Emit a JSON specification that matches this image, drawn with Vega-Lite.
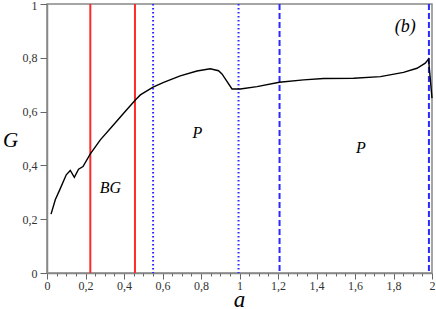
{
  "$schema": "https://vega.github.io/schema/vega-lite/v6.json",
  "width": 385,
  "height": 269,
  "autosize": {"type": "none"},
  "padding": {"left": 47, "top": 4, "right": 4, "bottom": 36},
  "config": {
    "view": {"stroke": "#888888", "strokeWidth": 1.5},
    "font": "Liberation Serif"
  },
  "resolve": {"axis": {"x": "independent"}},
  "datasets": {
    "curve": [
      {"a": 0.021, "G": 0.219}, {"a": 0.043, "G": 0.272}, {"a": 0.066, "G": 0.309},
      {"a": 0.1, "G": 0.365}, {"a": 0.121, "G": 0.381}, {"a": 0.142, "G": 0.356},
      {"a": 0.164, "G": 0.386}, {"a": 0.187, "G": 0.396}, {"a": 0.225, "G": 0.443},
      {"a": 0.277, "G": 0.495}, {"a": 0.346, "G": 0.551}, {"a": 0.398, "G": 0.594},
      {"a": 0.459, "G": 0.643}, {"a": 0.485, "G": 0.662}, {"a": 0.551, "G": 0.691},
      {"a": 0.606, "G": 0.709}, {"a": 0.692, "G": 0.733}, {"a": 0.779, "G": 0.751},
      {"a": 0.848, "G": 0.759}, {"a": 0.891, "G": 0.752}, {"a": 0.909, "G": 0.74},
      {"a": 0.961, "G": 0.684}, {"a": 1.004, "G": 0.684}, {"a": 1.091, "G": 0.693},
      {"a": 1.207, "G": 0.709}, {"a": 1.333, "G": 0.718}, {"a": 1.437, "G": 0.723},
      {"a": 1.593, "G": 0.724}, {"a": 1.732, "G": 0.73}, {"a": 1.852, "G": 0.746},
      {"a": 1.922, "G": 0.761}, {"a": 1.965, "G": 0.78}, {"a": 1.982, "G": 0.795},
      {"a": 2.0, "G": 0.65}
    ],
    "labels": [
      {"a": 1.861, "G": 0.913, "t": "(b)", "s": 18},
      {"a": 0.329, "G": 0.317, "t": "BG", "s": 16},
      {"a": 0.781, "G": 0.519, "t": "P", "s": 16},
      {"a": 1.63, "G": 0.466, "t": "P", "s": 16}
    ]
  },
  "layer": [
    {
      "data": {"values": [{"a": 0.225}, {"a": 0.457}]},
      "mark": {"type": "rule", "color": "#ff2a2a", "strokeWidth": 2},
      "encoding": {"x": {"field": "a", "type": "quantitative", "axis": null}}
    },
    {
      "data": {"values": [{"a": 0.551}, {"a": 0.995}]},
      "mark": {"type": "rule", "color": "#2a2aff", "strokeWidth": 2, "strokeDash": [1.5, 2.5]},
      "encoding": {"x": {"field": "a", "type": "quantitative", "axis": null}}
    },
    {
      "data": {"values": [{"a": 1.208}, {"a": 1.984}]},
      "mark": {"type": "rule", "color": "#2a2aff", "strokeWidth": 2, "strokeDash": [6, 3]},
      "encoding": {"x": {"field": "a", "type": "quantitative", "axis": null}}
    },
    {
      "data": {"name": "curve"},
      "mark": {"type": "line", "color": "black", "strokeWidth": 1.4},
      "encoding": {
        "x": {
          "field": "a", "type": "quantitative",
          "scale": {"domain": [0, 2], "nice": false, "zero": false},
          "axis": {
            "orient": "bottom",
            "title": "a",
            "titleFont": "Liberation Serif", "titleFontStyle": "italic", "titleFontWeight": "normal",
            "titleFontSize": 23, "titleColor": "black",
            "titleX": 192, "titleY": 33, "titleAlign": "center", "titleBaseline": "alphabetic",
            "values": [0, 0.2, 0.4, 0.6, 0.8, 1, 1.2, 1.4, 1.6, 1.8, 2],
            "labelExpr": "replace(format(datum.value, '~g'), '.', ',')",
            "labelFont": "Liberation Serif", "labelFontSize": 12, "labelColor": "#333333",
            "labelPadding": 1, "labelFlush": false, "labelOverlap": false,
            "domainColor": "#888888", "domainWidth": 1.5,
            "tickColor": "#666666", "tickWidth": 1, "tickSize": 6,
            "grid": false
          }
        },
        "y": {
          "field": "G", "type": "quantitative",
          "scale": {"domain": [0, 1], "nice": false},
          "axis": {
            "title": "G",
            "titleFont": "Liberation Serif", "titleFontStyle": "italic", "titleFontWeight": "normal",
            "titleFontSize": 21, "titleColor": "black", "titleAngle": 0,
            "titleX": -37, "titleY": 136, "titleAlign": "center", "titleBaseline": "middle",
            "values": [0,0.05,0.1,0.15,0.2,0.25,0.3,0.35,0.4,0.45,0.5,0.55,0.6,0.65,0.7,0.75,0.8,0.85,0.9,0.95,1],
            "labelExpr": "abs(datum.value*5 - round(datum.value*5)) < 0.001 ? replace(format(datum.value, '~g'), '.', ',') : ''",
            "labelFont": "Liberation Serif", "labelFontSize": 12, "labelColor": "#333333",
            "labelPadding": 3, "labelFlush": false, "labelOverlap": false, "labelBound": false,
            "labelOffset": {"condition": {"test": "datum.value > 0.99", "value": 1}, "value": 0},
            "domainColor": "#888888", "domainWidth": 1.5,
            "tickColor": "#666666", "tickWidth": 1,
            "tickSize": {"condition": {"test": "abs(datum.value*5 - round(datum.value*5)) < 0.001", "value": 7}, "value": 3},
            "grid": false
          }
        }
      }
    },
    {
      "data": {"name": "labels"},
      "mark": {"type": "text", "font": "Liberation Serif", "fontStyle": "italic", "color": "black", "align": "center", "baseline": "middle"},
      "encoding": {
        "x": {
          "field": "a", "type": "quantitative",
          "axis": {
            "orient": "bottom",
            "title": null,
            "values": [0.05,0.1,0.15,0.25,0.3,0.35,0.45,0.5,0.55,0.65,0.7,0.75,0.85,0.9,0.95,1.05,1.1,1.15,1.25,1.3,1.35,1.45,1.5,1.55,1.65,1.7,1.75,1.85,1.9,1.95],
            "labels": false, "domain": false, "grid": false,
            "tickColor": "#666666", "tickWidth": 1, "tickSize": 3
          }
        },
        "y": {"field": "G", "type": "quantitative"},
        "size": {"field": "s", "type": "quantitative", "scale": null, "legend": null},
        "text": {"field": "t"}
      }
    }
  ]
}
